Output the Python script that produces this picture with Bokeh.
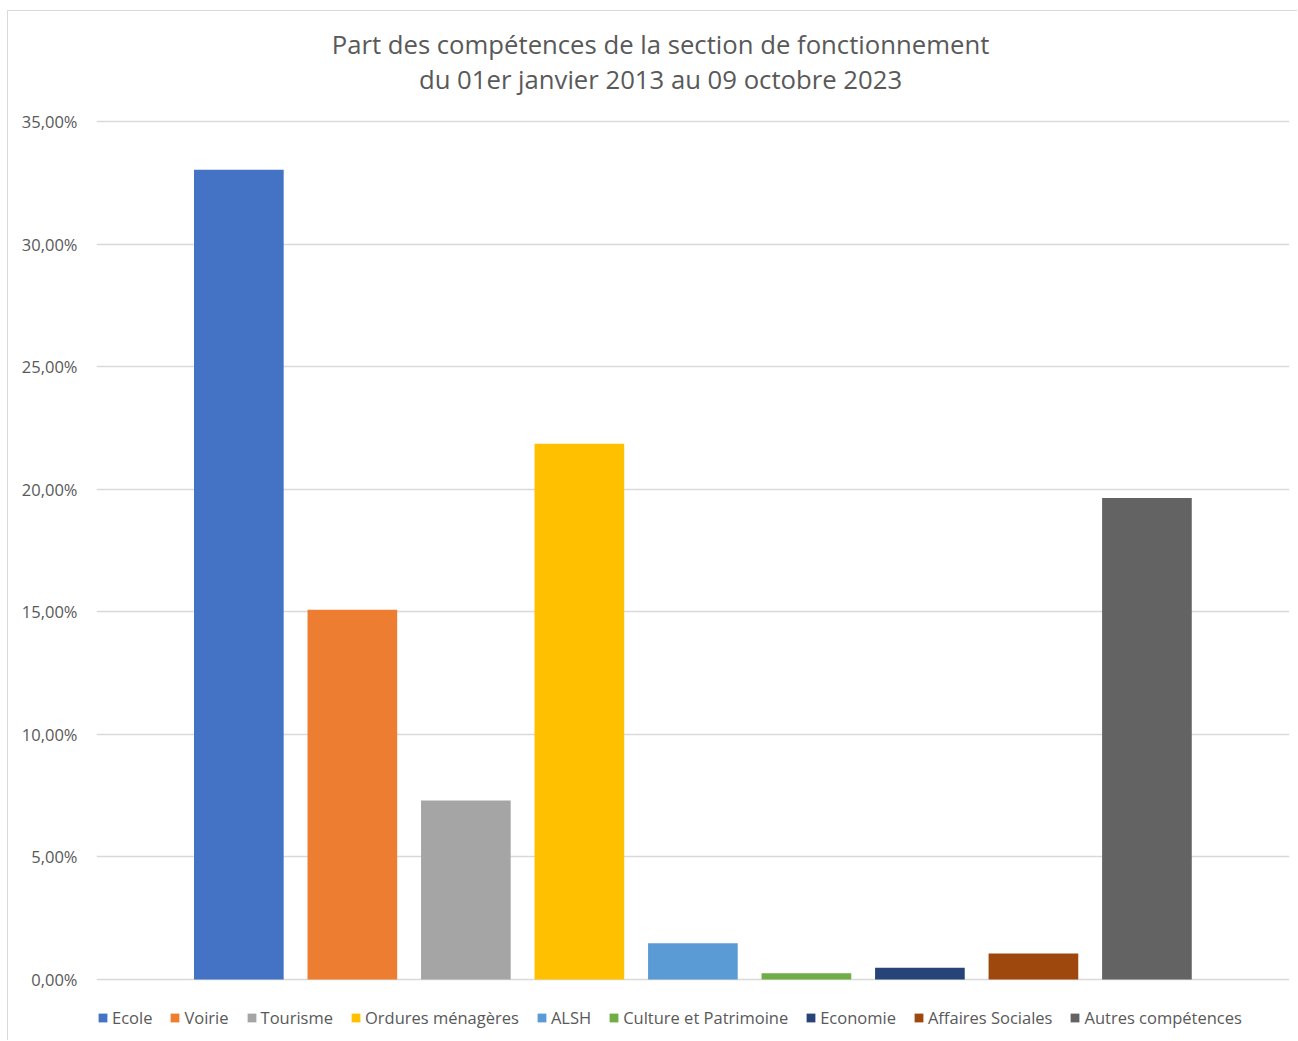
from bokeh.plotting import figure
from bokeh.models import (ColumnDataSource, Range1d, FixedTicker, CustomJSTickFormatter,
                          Legend, LegendItem, Label)
from bokeh.embed import file_html
from bokeh.resources import INLINE

categories = ["Ecole", "Voirie", "Tourisme", "Ordures ménagères", "ALSH",
              "Culture et Patrimoine", "Economie", "Affaires Sociales", "Autres compétences"]
values = [33.03, 15.08, 7.30, 21.85, 1.48, 0.25, 0.48, 1.06, 19.64]
colors = ["#4472C4", "#ED7D31", "#A5A5A5", "#FFC000", "#5B9BD5",
          "#70AD47", "#264478", "#9E480E", "#636363"]
y_ticks = [0, 5, 10, 15, 20, 25, 30, 35]
title_lines = ["Part des compétences de la section de fonctionnement",
               "du 01er janvier 2013 au 09 octobre 2023"]

FONT = "Open Sans"
TXT = "#595959"

# layout geometry (pixels)
W, H = 1290, 1030
LEFT, RIGHT = 88, 9
PX_TOP_GAP, PX_BOTTOM_GAP = 110, 62        # space above 35% line / below 0% line
PLOT_H = H - PX_TOP_GAP - PX_BOTTOM_GAP     # pixels for 0..35
YMAX = 35
ppu = PLOT_H / YMAX
y0 = -PX_BOTTOM_GAP / ppu
y1 = YMAX + PX_TOP_GAP / ppu
x0, x1 = -1.254, 9.256

src = ColumnDataSource(dict(x=list(range(len(categories))), top=values,
                            color=colors, cat=categories))

p = figure(width=W, height=H, output_backend="svg", toolbar_location=None,
           x_range=Range1d(x0, x1), y_range=Range1d(y0, y1),
           min_border_left=LEFT, min_border_right=RIGHT, min_border_top=0,
           min_border_bottom=0, outline_line_color=None,
           styles={"margin-left": "7px", "margin-top": "10px",
                   "border-left": "1px solid #d9d9d9", "border-top": "1px solid #d9d9d9"})

r = p.vbar(x="x", top="top", width=0.79, color="color", line_color=None, source=src)

p.xaxis.visible = False
p.xgrid.visible = False
p.ygrid.grid_line_color = "#d9d9d9"
p.ygrid.grid_line_width = 1.3
p.ygrid.ticker = FixedTicker(ticks=y_ticks)

ya = p.yaxis[0]
ya.ticker = FixedTicker(ticks=y_ticks)
ya.formatter = CustomJSTickFormatter(code="return tick.toFixed(2).replace('.', ',') + '%';")
ya.axis_line_color = None
ya.major_tick_line_color = None
ya.minor_tick_line_color = None
ya.major_label_standoff = 13
ya.major_label_text_font = FONT
ya.major_label_text_font_size = "16.5px"
ya.major_label_text_color = TXT

# title, centred on the chart area (page x = 660)
x_title = x0 + (660 - 96) / (W - LEFT - RIGHT) * (x1 - x0)
for line, yb in zip(title_lines, [997.5, 962.5]):
    p.add_layout(Label(x=x_title, y=yb, y_units="screen", text=line,
                       text_align="center", text_baseline="alphabetic",
                       text_font=FONT, text_font_size="25.7px", text_color=TXT))

items = [LegendItem(label=c, renderers=[r], index=i) for i, c in enumerate(categories)]
leg = Legend(items=items, orientation="horizontal", location=(1, 12),
             glyph_width=11, glyph_height=11, label_standoff=4, spacing=17,
             padding=0, margin=0, border_line_color=None, background_fill_alpha=0,
             label_text_font=FONT, label_text_font_size="16.5px", label_text_color=TXT)
p.add_layout(leg, "center")

open("out.html", "w").write(file_html(p, INLINE))
